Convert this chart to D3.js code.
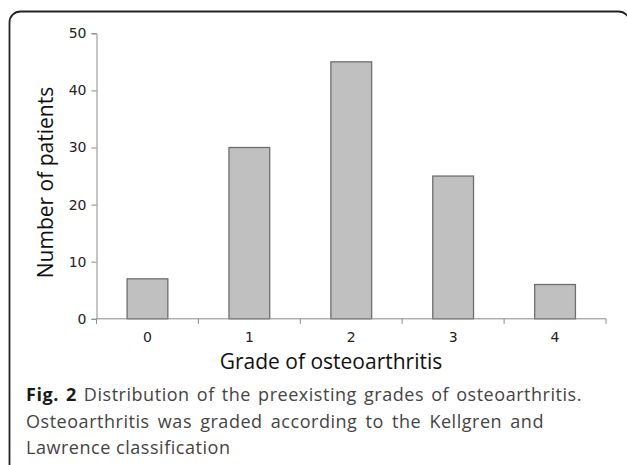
<!DOCTYPE html>
<html><head><meta charset="utf-8">
<script src="https://cdn.jsdelivr.net/npm/d3@7"></script>
<style>html,body{margin:0;padding:0;background:#fff;}svg{display:block;}</style>
</head><body>
<script>
const categories = ["0","1","2","3","4"];
const values = [7, 30, 45, 25, 6];
const yTicks = [0,10,20,30,40,50];
const xTitle = "Grade of osteoarthritis";
const yTitle = "Number of patients";
const captionBold = "Fig. 2";
const captionLines = [" Distribution of the preexisting grades of osteoarthritis.",
  "Osteoarthritis was graded according to the Kellgren and",
  "Lawrence classification"];

(function(){
const W = 627, H = 465;
const svg = d3.select("body").append("svg").attr("width", W).attr("height", H);

svg.append("rect").attr("x", 9.5).attr("y", 11.5).attr("width", 620).attr("height", 480)
  .attr("rx", 11).attr("fill", "none").attr("stroke", "#222").attr("stroke-width", 1.8);

const pLeft = 96.5, pRight = 606, pTop = 33.3, pBottom = 318.8;
const x = d3.scaleBand().domain(categories).range([pLeft, pRight]).paddingInner(0.6).paddingOuter(0.3);
const y = d3.scaleLinear().domain([0, 50]).range([pBottom, pTop]);

const font = "'Open Sans', sans-serif";
const tickFont = "'DejaVu Sans', sans-serif";

svg.append("g").selectAll("rect").data(values).join("rect")
  .attr("x", (d, i) => x(categories[i]))
  .attr("y", d => y(d))
  .attr("width", x.bandwidth())
  .attr("height", d => y(0) - y(d))
  .attr("fill", "#c0c0c0").attr("stroke", "#6e6e6e").attr("stroke-width", 1.3);

const yAxis = svg.append("g").attr("transform", `translate(${pLeft},0)`)
  .call(d3.axisLeft(y).tickValues(yTicks).tickSize(5).tickPadding(5));
yAxis.select(".domain").attr("stroke", "#8a8a8a");
yAxis.selectAll(".tick line").attr("stroke", "#8a8a8a");
yAxis.selectAll("text").attr("font-family", tickFont).attr("font-size", 14).attr("fill", "#222");

const xg = svg.append("g").attr("transform", `translate(0,${pBottom})`);
xg.append("line").attr("x1", pLeft).attr("x2", pRight).attr("stroke", "#8a8a8a");
const bounds = d3.range(categories.length + 1).map(i => pLeft + i * (pRight - pLeft) / categories.length);
xg.selectAll(".b").data(bounds).join("line").attr("class","b").attr("x1", d => d).attr("x2", d => d)
  .attr("y1", 0).attr("y2", 5).attr("stroke", "#8a8a8a");
xg.selectAll(".t").data(categories).join("text").attr("class","t")
  .attr("x", d => x(d) + x.bandwidth() / 2).attr("y", 23)
  .attr("text-anchor", "middle").attr("font-family", tickFont).attr("font-size", 14).attr("fill", "#222")
  .text(d => d);

svg.append("text").attr("x", 331).attr("y", 368.5).attr("text-anchor", "middle")
  .attr("font-family", font).attr("font-size", 21).attr("fill", "#111").text(xTitle);
svg.append("text").attr("transform", "translate(53,182.5) rotate(-90)").attr("text-anchor", "middle")
  .attr("font-family", font).attr("font-size", 21).attr("fill", "#111").text(yTitle);

const capFont = "'Open Sans', sans-serif";
const cap = svg.append("g").attr("font-family", capFont).attr("font-size", 18).attr("fill", "#444");
const t1 = cap.append("text").attr("x", 26).attr("y", 401);
t1.append("tspan").attr("font-weight", "bold").attr("fill", "#1a1a1a").text(captionBold);
t1.append("tspan").text(captionLines[0]);
const t2 = cap.append("text").attr("x", 26).attr("y", 427.5).text(captionLines[1]);
const t3 = cap.append("text").attr("x", 26).attr("y", 454).text(captionLines[2]);
const s3 = t3.text();
const w3 = t3.node().getComputedTextLength();
const ls = Math.max(0, (230 - 26 - w3) / (s3.length - 1));
cap.attr("letter-spacing", ls);
[[t1, 582], [t2, 544]].forEach(([t, endX]) => {
  const w = t.node().getComputedTextLength();
  const nSpaces = (t.text().match(/ /g) || []).length;
  t.attr("word-spacing", (endX - 26 - w) / Math.max(1, nSpaces));
});
})();
</script>
</body></html>
